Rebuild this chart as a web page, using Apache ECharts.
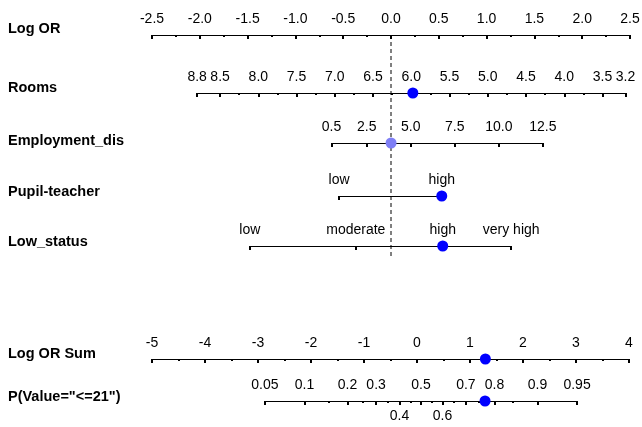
<!DOCTYPE html>
<html><head><meta charset="utf-8">
<script src="https://cdn.jsdelivr.net/npm/echarts@6/dist/echarts.min.js"></script>
<style>html,body{margin:0;padding:0;background:#fff}#c{width:642px;height:427px}</style>
</head><body><div id="c"></div>
<script>
// ---------------- data ----------------
const rowNames = ['Log OR', 'Rooms', 'Employment_dis', 'Pupil-teacher', 'Low_status', 'Log OR Sum', 'P(Value="<=21")'];

const logOrRange = [-2.5, 2.5];
const logOrStep = 0.5;

const roomsRange = [3.2, 8.8];
const roomsEndLogOr = [2.453, -2.028];          // log OR at 3.2 and at 8.8
const roomsTicks = [3.2, 3.5, 4.0, 4.5, 5.0, 5.5, 6.0, 6.5, 7.0, 7.5, 8.0, 8.5, 8.8];
const roomsMinorTicks = [3.75, 4.25, 4.75, 5.25, 5.75, 6.25, 6.75, 7.25, 7.75, 8.25];
const roomsValue = 5.98;

const empRange = [0.5, 12.5];
const empEndLogOr = [-0.622, 1.588];            // log OR at 0.5 and at 12.5
const empTicks = [0.5, 2.5, 5.0, 7.5, 10.0, 12.5];
const empValue = 3.88;

const pupilLevels = ['low', 'high'];
const pupilLogOr = [-0.543, 0.531];
const pupilValue = 'high';

const lowLevels = ['low', 'moderate', 'high', 'very high'];
const lowLogOr = [-1.477, -0.368, 0.541, 1.257];
const lowValue = 'high';

const sumRange = [-5, 4];
const sumStep = 1;
const sumValue = 1.29;

const pRange = [0.05, 0.95];
const pTicksAbove = [0.05, 0.1, 0.2, 0.3, 0.5, 0.7, 0.8, 0.9, 0.95];
const pTicksBelow = [0.4, 0.6];
const pMinorTicks = [0.15, 0.25, 0.35, 0.45, 0.55, 0.65, 0.75, 0.85];
const pValue = 0.77;

// ---------------- layout / style ----------------
const L = {
  logOrLeft: 152, logOrRight: 630,
  sumLeft: 152, sumRight: 629,
  axisY: [35, 93, 143, 196, 246, 359, 401],
  labelDy: [-6, -5, -2, -4, -4, -5, -4],
  dashBottom: 258,
  labelX: 8,
  pShift: 4
};
const TICK_FONT = 'Liberation Sans, Arial, sans-serif';
const TICK_SIZE = 14;
const ROW_FONT = 'Liberation Sans, Arial, sans-serif';
const ROW_SIZE = 14.5;
const BLUE = '#0000ff';

const logit = p => Math.log(p / (1 - p));
const invLogit = v => 1 / (1 + Math.exp(-v));

const chart = echarts.init(document.getElementById('c'), null, {renderer: 'canvas'});

function axis(gridIndex, o) {
  return {
    type: 'value', gridIndex: gridIndex, position: 'top',
    min: o.min, max: o.max, interval: o.interval, inverse: !!o.inverse,
    axisLine: {show: o.line !== false, onZero: false, lineStyle: {color: '#000', width: 1}},
    axisTick: Object.assign({show: true, inside: true, length: o.tickLen || 4, lineStyle: {color: '#000', width: 2}},
      o.tickValues ? {customValues: o.tickValues} : {}),
    minorTick: o.minor ? {show: true, splitNumber: o.minor, length: 2, lineStyle: {color: '#000', width: 2}} : {show: false},
    axisLabel: Object.assign({
      show: o.labels !== false, color: '#000', fontFamily: TICK_FONT, fontSize: TICK_SIZE,
      margin: 9, inside: !!o.labelInside, showMinLabel: true, showMaxLabel: true,
      formatter: o.formatter
    }, o.labelValues ? {customValues: o.labelValues} : {}),
    splitLine: {show: false}, minorSplitLine: {show: false}
  };
}
function yax(gridIndex) {
  return {type: 'value', gridIndex: gridIndex, min: 0, max: 1, inverse: true, show: false};
}
function gridAt(left, right, top, height) {
  return {left: left, width: right - left, top: top, height: height || 10, outerBoundsMode: 'none', containLabel: false};
}

// Stage 1: base scales (Log OR and Log OR Sum) to convert values into pixels
chart.setOption({
  animation: false,
  grid: [gridAt(L.logOrLeft, L.logOrRight, L.axisY[0], L.dashBottom - L.axisY[0]),
         gridAt(L.sumLeft, L.sumRight, L.axisY[5])],
  xAxis: [axis(0, {min: logOrRange[0], max: logOrRange[1], interval: logOrStep}),
          axis(1, {min: sumRange[0], max: sumRange[1], interval: sumStep})],
  yAxis: [yax(0), yax(1)],
  series: []
});
const pxLog = v => chart.convertToPixel({xAxisIndex: 0}, v);
const pxSum = v => chart.convertToPixel({xAxisIndex: 1}, v);

const levelFmt = (levels, vals) => v => {
  let best = 0;
  vals.forEach((x, i) => { if (Math.abs(x - v) < Math.abs(vals[best] - v)) best = i; });
  return levels[best];
};
const fix1 = v => Number(v).toFixed(1);
const pFmt = v => String(Math.round(invLogit(v) * 100) / 100);

const grids = [
  gridAt(L.logOrLeft, L.logOrRight, L.axisY[0], L.dashBottom - L.axisY[0]),                 // 0 Log OR
  gridAt(pxLog(roomsEndLogOr[1]), pxLog(roomsEndLogOr[0]), L.axisY[1]),                     // 1 Rooms (8.8 left)
  gridAt(pxLog(empEndLogOr[0]), pxLog(empEndLogOr[1]), L.axisY[2]),                         // 2 Employment
  gridAt(pxLog(pupilLogOr[0]), pxLog(pupilLogOr[pupilLogOr.length - 1]), L.axisY[3]),       // 3 Pupil
  gridAt(pxLog(lowLogOr[0]), pxLog(lowLogOr[lowLogOr.length - 1]), L.axisY[4]),             // 4 Low status
  gridAt(L.sumLeft, L.sumRight, L.axisY[5]),                                                // 5 Sum
  gridAt(pxSum(logit(pRange[0])) + L.pShift, pxSum(logit(pRange[1])) + L.pShift, L.axisY[6]) // 6 P
];

const xAxes = [
  axis(0, {min: logOrRange[0], max: logOrRange[1], interval: logOrStep, minor: 2, formatter: fix1}),
  axis(1, {min: roomsRange[0], max: roomsRange[1], inverse: true, tickValues: roomsTicks, labelValues: roomsTicks, formatter: fix1}),
  axis(1, {min: roomsRange[0], max: roomsRange[1], inverse: true, tickValues: roomsMinorTicks, tickLen: 2, line: false, labels: false}),
  axis(2, {min: empRange[0], max: empRange[1], tickValues: empTicks, labelValues: empTicks, formatter: fix1}),
  axis(3, {min: pupilLogOr[0], max: pupilLogOr[pupilLogOr.length - 1], tickValues: pupilLogOr, labelValues: pupilLogOr, formatter: levelFmt(pupilLevels, pupilLogOr)}),
  axis(4, {min: lowLogOr[0], max: lowLogOr[lowLogOr.length - 1], tickValues: lowLogOr, labelValues: lowLogOr, formatter: levelFmt(lowLevels, lowLogOr)}),
  axis(5, {min: sumRange[0], max: sumRange[1], interval: sumStep, minor: 2}),
  axis(6, {min: logit(pRange[0]), max: logit(pRange[1]), tickValues: pTicksAbove.map(logit), labelValues: pTicksAbove.map(logit), formatter: pFmt}),
  axis(6, {min: logit(pRange[0]), max: logit(pRange[1]), tickValues: pTicksBelow.map(logit), labelValues: pTicksBelow.map(logit),
           line: false, labelInside: true, formatter: pFmt}),
  axis(6, {min: logit(pRange[0]), max: logit(pRange[1]), tickValues: pMinorTicks.map(logit), tickLen: 2, line: false, labels: false})
];
xAxes[8].axisLabel.margin = 8;

const yAxes = grids.map((g, i) => yax(i));

function marker(xi, yi, x, color, size) {
  return {
    type: 'scatter', xAxisIndex: xi, yAxisIndex: yi, clip: false, silent: true,
    symbol: 'circle', symbolSize: size || 11, z: 5,
    itemStyle: {color: color || BLUE, opacity: 1},
    data: [[x, 0]]
  };
}

const series = [
  {
    type: 'line', xAxisIndex: 0, yAxisIndex: 0, symbol: 'none', silent: true, z: 1,
    lineStyle: {color: '#000', width: 1, type: [4, 3]},
    data: [[0, 0], [0, 1]]
  },
  marker(1, 1, roomsValue),
  marker(3, 2, empValue, '#7f7ff5'),
  marker(4, 3, pupilLogOr[pupilLevels.indexOf(pupilValue)]),
  marker(5, 4, lowLogOr[lowLevels.indexOf(lowValue)]),
  marker(6, 5, sumValue),
  marker(7, 6, logit(pValue))
];

const graphics = rowNames.map((name, i) => ({
  type: 'text', x: L.labelX, y: L.axisY[i] + L.labelDy[i], silent: true,
  style: {text: name, fontFamily: ROW_FONT, fontWeight: 'bold', fontSize: ROW_SIZE, fill: '#000',
          align: 'left', verticalAlign: 'middle'}
}));

chart.setOption({
  animation: false,
  backgroundColor: '#fff',
  grid: grids,
  xAxis: xAxes,
  yAxis: yAxes,
  series: series,
  graphic: graphics
}, true);
</script></body></html>
